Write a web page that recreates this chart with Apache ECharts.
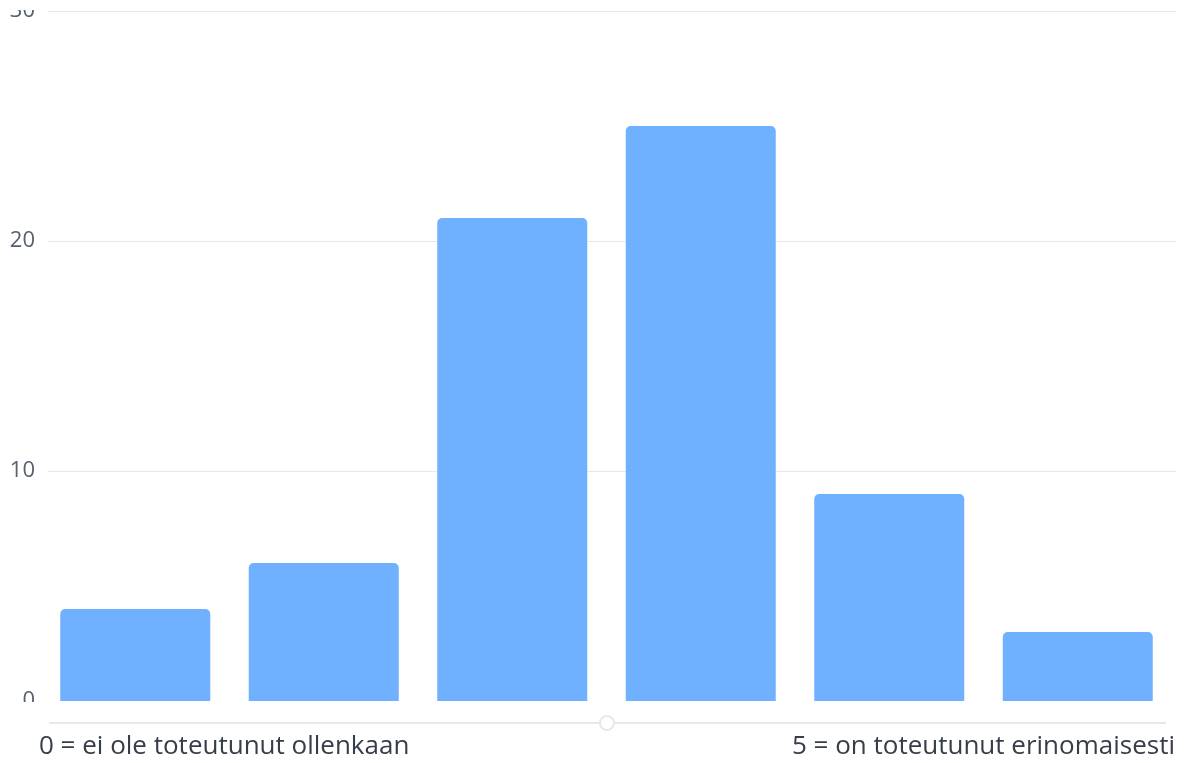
<!DOCTYPE html>
<html><head><meta charset="utf-8">
<script src="https://cdn.jsdelivr.net/npm/echarts@6/dist/echarts.min.js"></script>
<style>html,body{margin:0;padding:0;background:#fff}#c{width:1184px;height:763px}</style>
</head><body><div id="c"></div>
<script>
const categories = ['0', '1', '2', '3', '4', '5'];
const values = [4, 6, 21, 25, 9, 3];
const yTicks = [0, 10, 20, 30];
const leftLabel = '0 = ei ole toteutunut ollenkaan';
const rightLabel = '5 = on toteutunut erinomaisesti';

const chart = echarts.init(document.getElementById('c'), null, {renderer: 'canvas'});
const FONT = '"Open Sans", sans-serif';
chart.setOption({
  animation: false,
  grid: [
    {left: 48, right: 8, top: 11, bottom: 62},
    {left: 41, right: 12, top: 11, bottom: 62}
  ],
  xAxis: [
    {gridIndex: 0, type: 'category', data: categories, show: false},
    {gridIndex: 1, type: 'category', data: categories, show: false}
  ],
  yAxis: [
    {gridIndex: 0, type: 'value', min: yTicks[0], max: yTicks[yTicks.length - 1], interval: 10,
     axisLine: {show: false}, axisTick: {show: false},
     axisLabel: {color: '#56606e', fontSize: 22, fontFamily: FONT, margin: 13},
     splitLine: {lineStyle: {color: ['rgba(0,0,0,0)', '#e6e8ea', '#e6e8ea', '#e6e8ea'], width: 1}}},
    {gridIndex: 1, type: 'value', min: yTicks[0], max: yTicks[yTicks.length - 1], interval: 10, show: false,
     splitLine: {show: false}}
  ],
  series: [{
    type: 'bar', xAxisIndex: 1, yAxisIndex: 1, data: values,
    barWidth: 150,
    itemStyle: {color: '#70b1ff', borderRadius: [5, 5, 0, 0]}
  }],
  title: [
    {text: leftLabel, left: 39, top: 734, padding: 0,
     textStyle: {fontSize: 26, fontWeight: 'normal', color: '#363e4a', fontFamily: FONT}},
    {text: rightLabel, right: 9, top: 734, padding: 0,
     textStyle: {fontSize: 26, fontWeight: 'normal', color: '#363e4a', fontFamily: FONT}}
  ],
  graphic: [
    {type: 'rect', z: 100, shape: {x: 0, y: 0, width: 46, height: 10}, style: {fill: '#fff'}},
    {type: 'rect', z: 100, shape: {x: 0, y: 702, width: 1184, height: 14}, style: {fill: '#fff'}},
    {type: 'line', z: 101, shape: {x1: 49, y1: 723, x2: 1166, y2: 723}, style: {stroke: '#e6e8ea', lineWidth: 2}},
    {type: 'circle', z: 102, shape: {cx: 607, cy: 723, r: 7}, style: {fill: '#fff', stroke: '#e6e8ea', lineWidth: 2}}
  ]
});
</script></body></html>
